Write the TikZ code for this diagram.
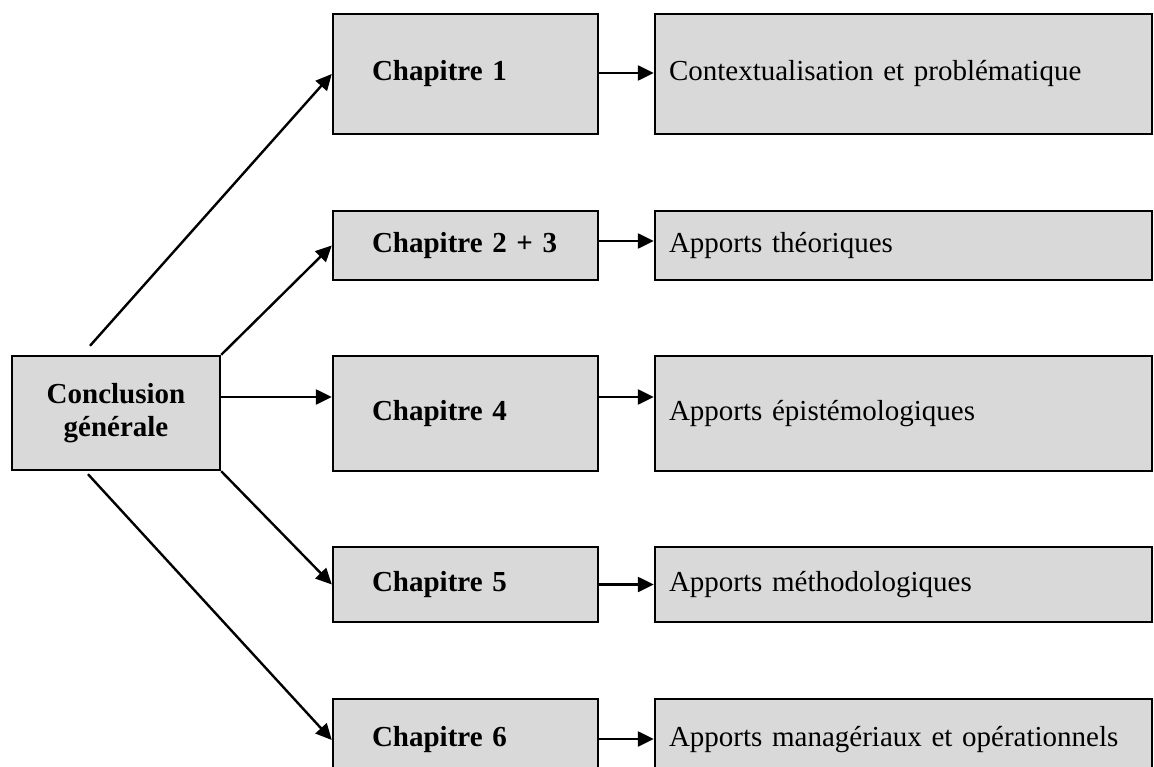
\documentclass[tikz,border=0pt]{standalone}
\usepackage{fontspec}
\setmainfont{Liberation Serif}
\usetikzlibrary{arrows.meta}
\definecolor{boxgray}{HTML}{D9D9D9}
\begin{document}
\begin{tikzpicture}[x=1pt,y=-1pt,
  box/.style={draw=black, fill=boxgray, line width=2.4pt, rectangle, inner ysep=0pt,
    font=\fontsize{29}{33}\selectfont},
  chap/.style={box, font=\fontsize{29}{33}\selectfont\bfseries, text width=187pt,
    inner xsep=39pt, align=left},
  res/.style={box, text width=469pt, inner xsep=14pt, align=left},
  conn/.style={line width=2.4pt, -{Triangle[length=16pt,width=15pt]}}]
\useasboundingbox (0,0) rectangle (1154,767);

\node[box, font=\fontsize{29}{33}\selectfont\bfseries, align=center,
  minimum width=208pt, minimum height=114pt] (conc) at (116,413) {Conclusion\\générale};

\node[chap, minimum height=120pt] (ch1) at (465.5,74) {Chapitre 1};
\node[chap, minimum height=69pt] (ch23) at (465.5,245.5) {Chapitre 2 + 3};
\node[chap, minimum height=115pt] (ch4) at (465.5,413.5) {Chapitre 4};
\node[chap, minimum height=75pt] (ch5) at (465.5,584.5) {Chapitre 5};
\node[chap, minimum height=82pt] (ch6) at (465.5,740) {Chapitre 6};

\node[res, minimum height=120pt] (r1) at (903.5,74) {Contextualisation et problématique};
\node[res, minimum height=69pt] (r23) at (903.5,245.5) {Apports théoriques};
\node[res, minimum height=115pt] (r4) at (903.5,413.5) {Apports épistémologiques};
\node[res, minimum height=75pt] (r5) at (903.5,584.5) {Apports méthodologiques};
\node[res, minimum height=82pt] (r6) at (903.5,740) {Apports managériaux et opérationnels};

\draw[conn] ([xshift=-26pt,yshift=9pt]conc.north) -- (ch1.west);
\draw[conn] (conc.north east) -- (ch23.west);
\draw[conn] ([yshift=16pt]conc.east) -- ([yshift=16.5pt]ch4.west);
\draw[conn] (conc.south east) -- (ch5.west);
\draw[conn] ([xshift=-28pt,yshift=-3pt]conc.south) -- (ch6.west);

\draw[conn] ([yshift=1pt]ch1.east) -- ([yshift=1pt]r1.west);
\draw[conn] ([yshift=4.5pt]ch23.east) -- ([yshift=4.5pt]r23.west);
\draw[conn] ([yshift=16.5pt]ch4.east) -- ([yshift=16.5pt]r4.west);
\draw[conn] (ch5.east) -- (r5.west);
\draw[conn] ([yshift=1pt]ch6.east) -- ([yshift=1pt]r6.west);
\end{tikzpicture}
\end{document}
